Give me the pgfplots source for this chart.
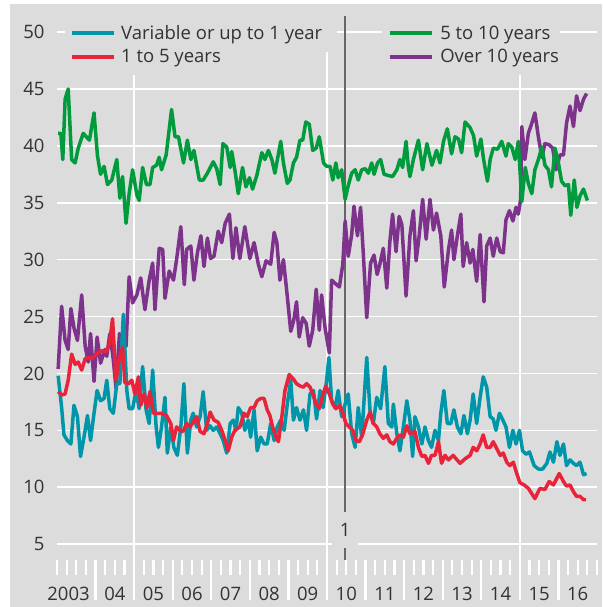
\documentclass[border=0pt]{standalone}
\usepackage{pgfplots}
\pgfplotsset{compat=1.18}
\usepackage{fontspec}
\setmainfont{Open Sans}
\definecolor{bggray}{HTML}{DCDCDC}
\definecolor{cteal}{HTML}{0096AA}
\definecolor{cred}{HTML}{E8233A}
\definecolor{cgreen}{HTML}{009B3C}
\definecolor{cpurple}{HTML}{7D328C}
\definecolor{txt}{HTML}{333333}
\definecolor{markline}{HTML}{666666}
\newcommand{\chartfont}{\fontsize{18.5}{22}\selectfont}
\pgfplotsset{series/.style={line width=3.5pt, line join=round, forget plot}}

\begin{document}
\begin{tikzpicture}[x=1pt,y=1pt]
\path[use as bounding box, fill=white] (0,0) rectangle (602,607);
\fill[bggray] (10,0) rectangle (602,603);
\begin{axis}[
  at={(57pt,6pt)}, anchor=south west,
  scale only axis, width=540pt, height=568.9pt,
  xmin=2003, xmax=2017, ymin=0, ymax=50,
  clip=false,
  axis line style={draw=none},
  major tick length=0pt,
  ytick={5,10,...,45},
  extra y ticks={50},
  extra y tick style={grid=none},
  ymajorgrids,
  grid style={white, line width=1.6pt},
  xtick={2003.3,2004.5,2005.5,2006.5,2007.5,2008.5,2009.5,2010.5,2011.5,2012.5,2013.5,2014.5,2015.5,2016.5},
  xticklabels={2003,04,05,06,07,08,09,10,11,12,13,14,15,16},
  /pgf/number format/assume math mode=true,
  tick label style={font=\chartfont, text=txt},
  xticklabel style={anchor=base, yshift=1pt},
  yticklabel style={anchor=east, xshift=-9pt},
  legend columns=2, transpose legend,
  legend cell align=left,
  legend image code/.code={\draw[#1, line width=4pt] (0pt,0pt) -- (42pt,0pt);},
  legend style={at={(axis cs:2003.337,50.77)}, anchor=north west,
    draw=none, fill=none, inner sep=0pt, font=\chartfont, text=txt,
    row sep=4pt,
    /tikz/column 1/.style={column sep=3pt},
    /tikz/column 2/.style={column sep=64pt},
    /tikz/column 3/.style={column sep=4pt}},
]
% white year separators and quarter ticks
\pgfplotsinvokeforeach{2003,2003.25,...,2017}{\draw[white, line width=2.2pt] (axis cs:#1,2.29) -- (axis cs:#1,3.6);}
\pgfplotsinvokeforeach{2004,2006,2007,2008,2009,2011,2012,2013,2014,2016}{\draw[white, line width=2.2pt] (axis cs:#1,0.09) -- (axis cs:#1,3.6);}
\pgfplotsinvokeforeach{2005,2015}{\draw[white, line width=1.6pt] (axis cs:#1,0.09) -- (axis cs:#1,46.2);}
\draw[white, line width=1.6pt] (axis cs:2010,0.09) -- (axis cs:2010,48.25);
% top gridline, broken by the legend
\draw[white, line width=1.6pt] (axis cs:2003,50) -- (axis cs:2003.21,50);
\draw[white, line width=1.6pt] (axis cs:2010.26,50) -- (axis cs:2011.43,50);
\draw[white, line width=1.6pt] (axis cs:2016.04,50) -- (axis cs:2017,50);
% marker line 1
\draw[markline, line width=1.7pt] (axis cs:2010.47,3.6) -- (axis cs:2010.47,51.4);
\node[fill=bggray, text=txt, font=\chartfont, minimum width=26pt, minimum height=36pt, inner sep=0pt] at (axis cs:2010.47,6.24) {1};

\addlegendimage{cteal}
\addlegendentry{Variable or up to 1 year}
\addlegendimage{cred}
\addlegendentry{1 to 5 years}
\addlegendimage{cgreen}
\addlegendentry{5 to 10 years}
\addlegendimage{cpurple}
\addlegendentry{Over 10 years}

% Over 10 years
\addplot[cpurple, series] coordinates {
(2003.03,20.4)(2003.12,25.9)(2003.21,22.9)(2003.29,22.1)(2003.36,25.7)(2003.44,24.0)(2003.53,22.9)(2003.64,26.9)(2003.73,22.4)(2003.81,21.0)(2003.87,23.5)(2003.96,19.3)(2004.04,23.2)(2004.13,20.9)(2004.24,22.1)(2004.29,21.5)(2004.37,23.5)(2004.46,21.2)(2004.53,18.7)(2004.62,23.5)(2004.70,22.6)(2004.79,22.4)(2004.87,28.5)(2004.96,26.2)(2005.07,26.9)(2005.17,28.4)(2005.28,25.6)(2005.39,28.2)(2005.48,29.7)(2005.54,25.6)(2005.65,31.0)(2005.74,30.9)(2005.80,26.6)(2005.91,29.0)(2006.02,28.2)(2006.10,30.0)(2006.21,32.9)(2006.30,27.8)(2006.36,30.9)(2006.47,31.2)(2006.55,28.2)(2006.64,30.6)(2006.73,32.1)(2006.81,29.4)(2006.90,31.9)(2006.98,30.1)(2007.07,30.3)(2007.18,32.5)(2007.27,31.5)(2007.36,33.2)(2007.47,34.0)(2007.56,30.1)(2007.64,32.8)(2007.74,30.1)(2007.87,32.9)(2008.00,30.1)(2008.11,31.5)(2008.22,29.6)(2008.31,28.5)(2008.42,29.9)(2008.54,29.6)(2008.63,32.4)(2008.70,31.5)(2008.78,28.2)(2008.87,30.0)(2008.97,26.8)(2009.06,23.7)(2009.14,24.7)(2009.21,26.3)(2009.28,23.2)(2009.37,24.9)(2009.46,24.4)(2009.54,22.4)(2009.63,23.8)(2009.72,27.4)(2009.80,23.8)(2009.86,26.9)(2009.95,24.0)(2010.06,21.8)(2010.12,28.2)(2010.25,27.8)(2010.32,27.6)(2010.41,29.6)(2010.47,33.4)(2010.55,30.3)(2010.64,32.2)(2010.70,34.7)(2010.79,32.1)(2010.87,34.6)(2010.94,30.6)(2011.03,24.9)(2011.13,29.7)(2011.22,30.4)(2011.30,28.7)(2011.37,29.6)(2011.46,31.0)(2011.55,27.5)(2011.63,31.6)(2011.70,34.0)(2011.79,30.7)(2011.87,33.8)(2011.94,33.1)(2012.05,26.8)(2012.15,32.1)(2012.24,34.3)(2012.31,29.9)(2012.39,32.1)(2012.48,35.3)(2012.57,31.8)(2012.67,35.3)(2012.76,32.6)(2012.84,34.1)(2012.95,32.1)(2013.04,27.6)(2013.15,30.9)(2013.23,32.6)(2013.29,30.0)(2013.38,32.1)(2013.47,34.0)(2013.53,29.4)(2013.62,31.5)(2013.71,29.7)(2013.78,30.9)(2013.88,28.1)(2013.97,32.2)(2014.07,26.3)(2014.14,31.2)(2014.23,31.9)(2014.31,30.3)(2014.40,31.9)(2014.49,30.7)(2014.57,30.6)(2014.64,33.5)(2014.73,34.3)(2014.82,33.4)(2014.90,34.6)(2014.96,34.0)(2015.02,35.3)(2015.05,41.7)(2015.13,38.8)(2015.22,41.1)(2015.31,42.0)(2015.39,42.9)(2015.48,40.8)(2015.57,39.0)(2015.65,40.2)(2015.76,40.1)(2015.85,39.8)(2015.94,37.9)(2016.04,39.2)(2016.13,39.2)(2016.21,42.0)(2016.30,43.5)(2016.39,41.7)(2016.47,44.4)(2016.56,43.1)(2016.65,44.1)(2016.73,44.6)
};
% 5 to 10 years
\addplot[cgreen, series] coordinates {
(2003.03,41.1)(2003.10,41.1)(2003.15,38.8)(2003.21,44.1)(2003.29,45.0)(2003.38,38.8)(2003.47,38.5)(2003.55,39.8)(2003.68,41.1)(2003.84,40.5)(2003.96,42.9)(2004.05,39.1)(2004.13,37.5)(2004.22,38.2)(2004.31,36.6)(2004.42,37.0)(2004.55,38.8)(2004.63,35.4)(2004.70,37.3)(2004.79,33.2)(2004.87,35.8)(2004.96,37.9)(2005.07,35.7)(2005.13,35.2)(2005.22,38.1)(2005.32,36.6)(2005.41,36.6)(2005.48,38.1)(2005.58,38.3)(2005.65,39.0)(2005.71,37.9)(2005.83,39.2)(2005.97,43.2)(2006.06,40.8)(2006.15,40.8)(2006.28,38.5)(2006.38,40.5)(2006.47,38.8)(2006.55,39.6)(2006.69,37.0)(2006.79,37.0)(2006.90,37.6)(2007.05,38.6)(2007.14,38.0)(2007.23,36.6)(2007.30,40.2)(2007.40,39.9)(2007.49,38.1)(2007.53,39.5)(2007.62,37.7)(2007.70,35.8)(2007.81,38.1)(2007.90,36.4)(2007.99,37.2)(2008.07,36.2)(2008.18,37.4)(2008.31,39.4)(2008.39,38.8)(2008.48,39.6)(2008.57,38.8)(2008.65,37.6)(2008.80,40.4)(2008.87,38.5)(2008.97,36.7)(2009.04,37.0)(2009.13,38.5)(2009.21,39.0)(2009.30,40.5)(2009.37,40.5)(2009.45,42.1)(2009.54,41.9)(2009.63,39.6)(2009.72,39.8)(2009.80,40.8)(2009.91,38.5)(2009.99,38.2)(2010.08,38.2)(2010.15,37.0)(2010.23,38.5)(2010.29,37.2)(2010.38,37.9)(2010.47,35.3)(2010.55,36.5)(2010.64,37.6)(2010.73,37.9)(2010.81,37.0)(2010.90,37.9)(2010.99,38.0)(2011.07,37.6)(2011.16,38.5)(2011.22,37.5)(2011.31,38.5)(2011.39,38.8)(2011.48,37.5)(2011.59,37.4)(2011.70,37.3)(2011.81,37.9)(2011.89,38.8)(2011.96,38.1)(2012.05,40.4)(2012.11,38.1)(2012.15,37.3)(2012.24,38.8)(2012.37,40.5)(2012.48,37.9)(2012.59,40.2)(2012.72,38.3)(2012.84,39.6)(2012.93,38.5)(2013.02,40.4)(2013.12,41.5)(2013.23,39.3)(2013.32,40.8)(2013.41,40.6)(2013.49,39.4)(2013.58,42.1)(2013.71,41.6)(2013.80,40.9)(2013.88,39.1)(2013.99,40.6)(2014.06,38.8)(2014.16,36.9)(2014.23,38.8)(2014.31,39.8)(2014.42,39.7)(2014.53,40.4)(2014.64,39.1)(2014.70,40.2)(2014.79,39.9)(2014.88,38.8)(2014.96,40.4)(2015.05,35.1)(2015.14,38.1)(2015.22,36.7)(2015.31,35.8)(2015.39,37.9)(2015.48,38.8)(2015.57,39.9)(2015.65,38.3)(2015.74,37.9)(2015.82,36.4)(2015.91,39.8)(2016.00,38.5)(2016.08,36.9)(2016.17,36.5)(2016.26,36.6)(2016.32,33.9)(2016.41,37.0)(2016.48,34.6)(2016.56,35.6)(2016.65,36.2)(2016.75,35.2)
};
% Variable or up to 1 year
\addplot[cteal, series] coordinates {
(2003.03,19.8)(2003.12,17.0)(2003.18,14.6)(2003.27,14.1)(2003.36,13.8)(2003.44,17.2)(2003.53,16.2)(2003.61,12.7)(2003.70,14.4)(2003.79,16.3)(2003.87,14.1)(2003.96,16.5)(2004.04,18.5)(2004.13,17.6)(2004.22,17.8)(2004.29,19.4)(2004.37,16.9)(2004.46,16.5)(2004.55,19.1)(2004.63,19.1)(2004.72,25.2)(2004.81,18.5)(2004.87,16.9)(2004.96,16.9)(2005.05,18.5)(2005.13,16.9)(2005.22,20.6)(2005.31,16.8)(2005.39,15.6)(2005.48,20.3)(2005.57,15.3)(2005.63,13.5)(2005.71,15.3)(2005.80,17.9)(2005.86,13.0)(2005.95,15.3)(2006.03,13.5)(2006.12,12.8)(2006.21,15.3)(2006.29,19.1)(2006.38,13.0)(2006.47,15.9)(2006.53,16.5)(2006.62,15.3)(2006.71,16.2)(2006.79,18.4)(2006.88,15.0)(2006.97,15.4)(2007.05,15.0)(2007.14,15.3)(2007.23,14.7)(2007.31,14.1)(2007.40,13.0)(2007.49,15.6)(2007.57,15.9)(2007.64,15.0)(2007.70,17.0)(2007.79,16.5)(2007.87,15.0)(2007.96,15.9)(2008.02,14.4)(2008.11,16.8)(2008.19,13.2)(2008.28,14.4)(2008.37,13.8)(2008.45,13.8)(2008.54,15.6)(2008.63,14.1)(2008.71,15.3)(2008.80,15.9)(2008.89,15.0)(2008.97,17.3)(2009.06,19.4)(2009.13,15.9)(2009.21,17.0)(2009.30,15.9)(2009.39,16.8)(2009.47,15.0)(2009.56,18.2)(2009.65,18.5)(2009.73,16.0)(2009.82,18.5)(2009.90,17.0)(2009.99,19.4)(2010.05,21.4)(2010.12,17.6)(2010.21,17.0)(2010.29,18.5)(2010.38,16.2)(2010.47,17.3)(2010.55,18.2)(2010.64,14.7)(2010.73,13.5)(2010.81,17.0)(2010.90,14.4)(2011.03,21.4)(2011.12,16.5)(2011.20,15.6)(2011.29,17.9)(2011.39,16.9)(2011.50,20.6)(2011.59,15.6)(2011.68,15.3)(2011.72,17.3)(2011.81,14.7)(2011.89,13.2)(2011.98,15.3)(2012.07,17.6)(2012.15,15.9)(2012.22,12.7)(2012.28,16.2)(2012.37,15.3)(2012.46,13.8)(2012.54,15.3)(2012.63,14.1)(2012.71,13.5)(2012.80,15.0)(2012.89,14.1)(2012.95,16.5)(2013.03,18.5)(2013.12,15.6)(2013.21,15.6)(2013.29,16.8)(2013.38,15.3)(2013.47,14.7)(2013.55,16.3)(2013.64,14.7)(2013.71,15.9)(2013.79,18.2)(2013.88,15.6)(2013.97,17.9)(2014.05,19.7)(2014.14,18.8)(2014.23,16.2)(2014.31,16.0)(2014.38,15.0)(2014.47,16.5)(2014.56,15.9)(2014.64,15.3)(2014.73,13.5)(2014.82,15.0)(2014.90,13.8)(2014.99,15.0)(2015.07,13.2)(2015.16,12.9)(2015.25,13.1)(2015.37,11.9)(2015.48,11.6)(2015.59,11.6)(2015.70,12.1)(2015.78,13.1)(2015.87,12.2)(2015.96,14.0)(2016.04,12.8)(2016.13,13.8)(2016.21,11.9)(2016.30,12.4)(2016.39,12.1)(2016.47,11.9)(2016.56,12.2)(2016.65,11.1)(2016.73,11.2)
};
% 1 to 5 years
\addplot[cred, series] coordinates {
(2003.03,18.4)(2003.12,18.1)(2003.21,18.2)(2003.29,19.4)(2003.38,21.7)(2003.47,20.8)(2003.55,21.0)(2003.64,20.3)(2003.73,21.3)(2003.81,21.4)(2003.90,21.3)(2003.99,21.6)(2004.10,21.9)(2004.18,22.0)(2004.27,21.9)(2004.36,22.6)(2004.44,24.8)(2004.53,19.4)(2004.62,21.4)(2004.70,22.3)(2004.76,19.2)(2004.85,19.1)(2004.94,19.4)(2005.02,18.2)(2005.11,19.7)(2005.17,17.2)(2005.26,18.2)(2005.33,17.0)(2005.41,18.4)(2005.50,16.5)(2005.58,16.5)(2005.71,16.5)(2005.84,16.3)(2005.95,15.6)(2006.02,14.1)(2006.10,15.3)(2006.19,15.0)(2006.27,14.9)(2006.36,15.6)(2006.45,15.3)(2006.53,15.7)(2006.62,16.2)(2006.71,14.9)(2006.81,14.7)(2006.90,15.6)(2006.97,16.6)(2007.07,15.9)(2007.18,15.7)(2007.27,15.0)(2007.36,14.1)(2007.44,13.2)(2007.53,14.4)(2007.61,15.0)(2007.74,15.3)(2007.85,16.5)(2007.93,16.2)(2008.02,17.0)(2008.11,17.0)(2008.19,17.6)(2008.28,17.8)(2008.37,17.8)(2008.45,16.8)(2008.52,16.3)(2008.59,15.3)(2008.68,14.4)(2008.74,14.0)(2008.83,16.2)(2008.91,18.5)(2009.02,19.9)(2009.13,19.5)(2009.21,19.1)(2009.30,18.9)(2009.39,18.8)(2009.47,19.1)(2009.56,18.8)(2009.63,18.2)(2009.72,17.3)(2009.80,16.9)(2009.89,18.1)(2009.97,18.9)(2010.06,18.2)(2010.15,17.3)(2010.23,16.9)(2010.32,17.2)(2010.41,16.5)(2010.49,15.6)(2010.58,15.3)(2010.67,15.0)(2010.75,14.1)(2010.84,14.0)(2010.93,14.7)(2011.03,15.9)(2011.12,16.6)(2011.20,15.6)(2011.29,15.3)(2011.37,14.7)(2011.46,14.3)(2011.55,14.6)(2011.63,14.0)(2011.72,13.8)(2011.81,14.3)(2011.89,14.6)(2011.98,14.4)(2012.07,15.4)(2012.15,14.7)(2012.28,14.9)(2012.37,13.5)(2012.46,12.7)(2012.54,12.8)(2012.63,12.1)(2012.71,12.8)(2012.80,12.8)(2012.89,14.0)(2012.97,12.1)(2013.06,12.8)(2013.15,12.4)(2013.27,12.8)(2013.45,12.1)(2013.58,12.5)(2013.71,12.8)(2013.79,13.5)(2013.88,13.2)(2013.97,13.8)(2014.05,14.6)(2014.14,13.5)(2014.23,13.5)(2014.31,14.0)(2014.40,13.4)(2014.49,12.8)(2014.57,13.0)(2014.66,12.2)(2014.74,11.9)(2014.83,12.2)(2014.92,11.2)(2015.00,10.4)(2015.11,10.2)(2015.22,9.9)(2015.39,9.0)(2015.52,9.9)(2015.65,9.8)(2015.76,10.5)(2015.87,10.2)(2016.02,11.2)(2016.13,10.5)(2016.21,10.1)(2016.30,10.2)(2016.39,9.6)(2016.47,9.2)(2016.56,9.2)(2016.65,8.9)(2016.72,8.9)
};
\end{axis}
\end{tikzpicture}
\end{document}
